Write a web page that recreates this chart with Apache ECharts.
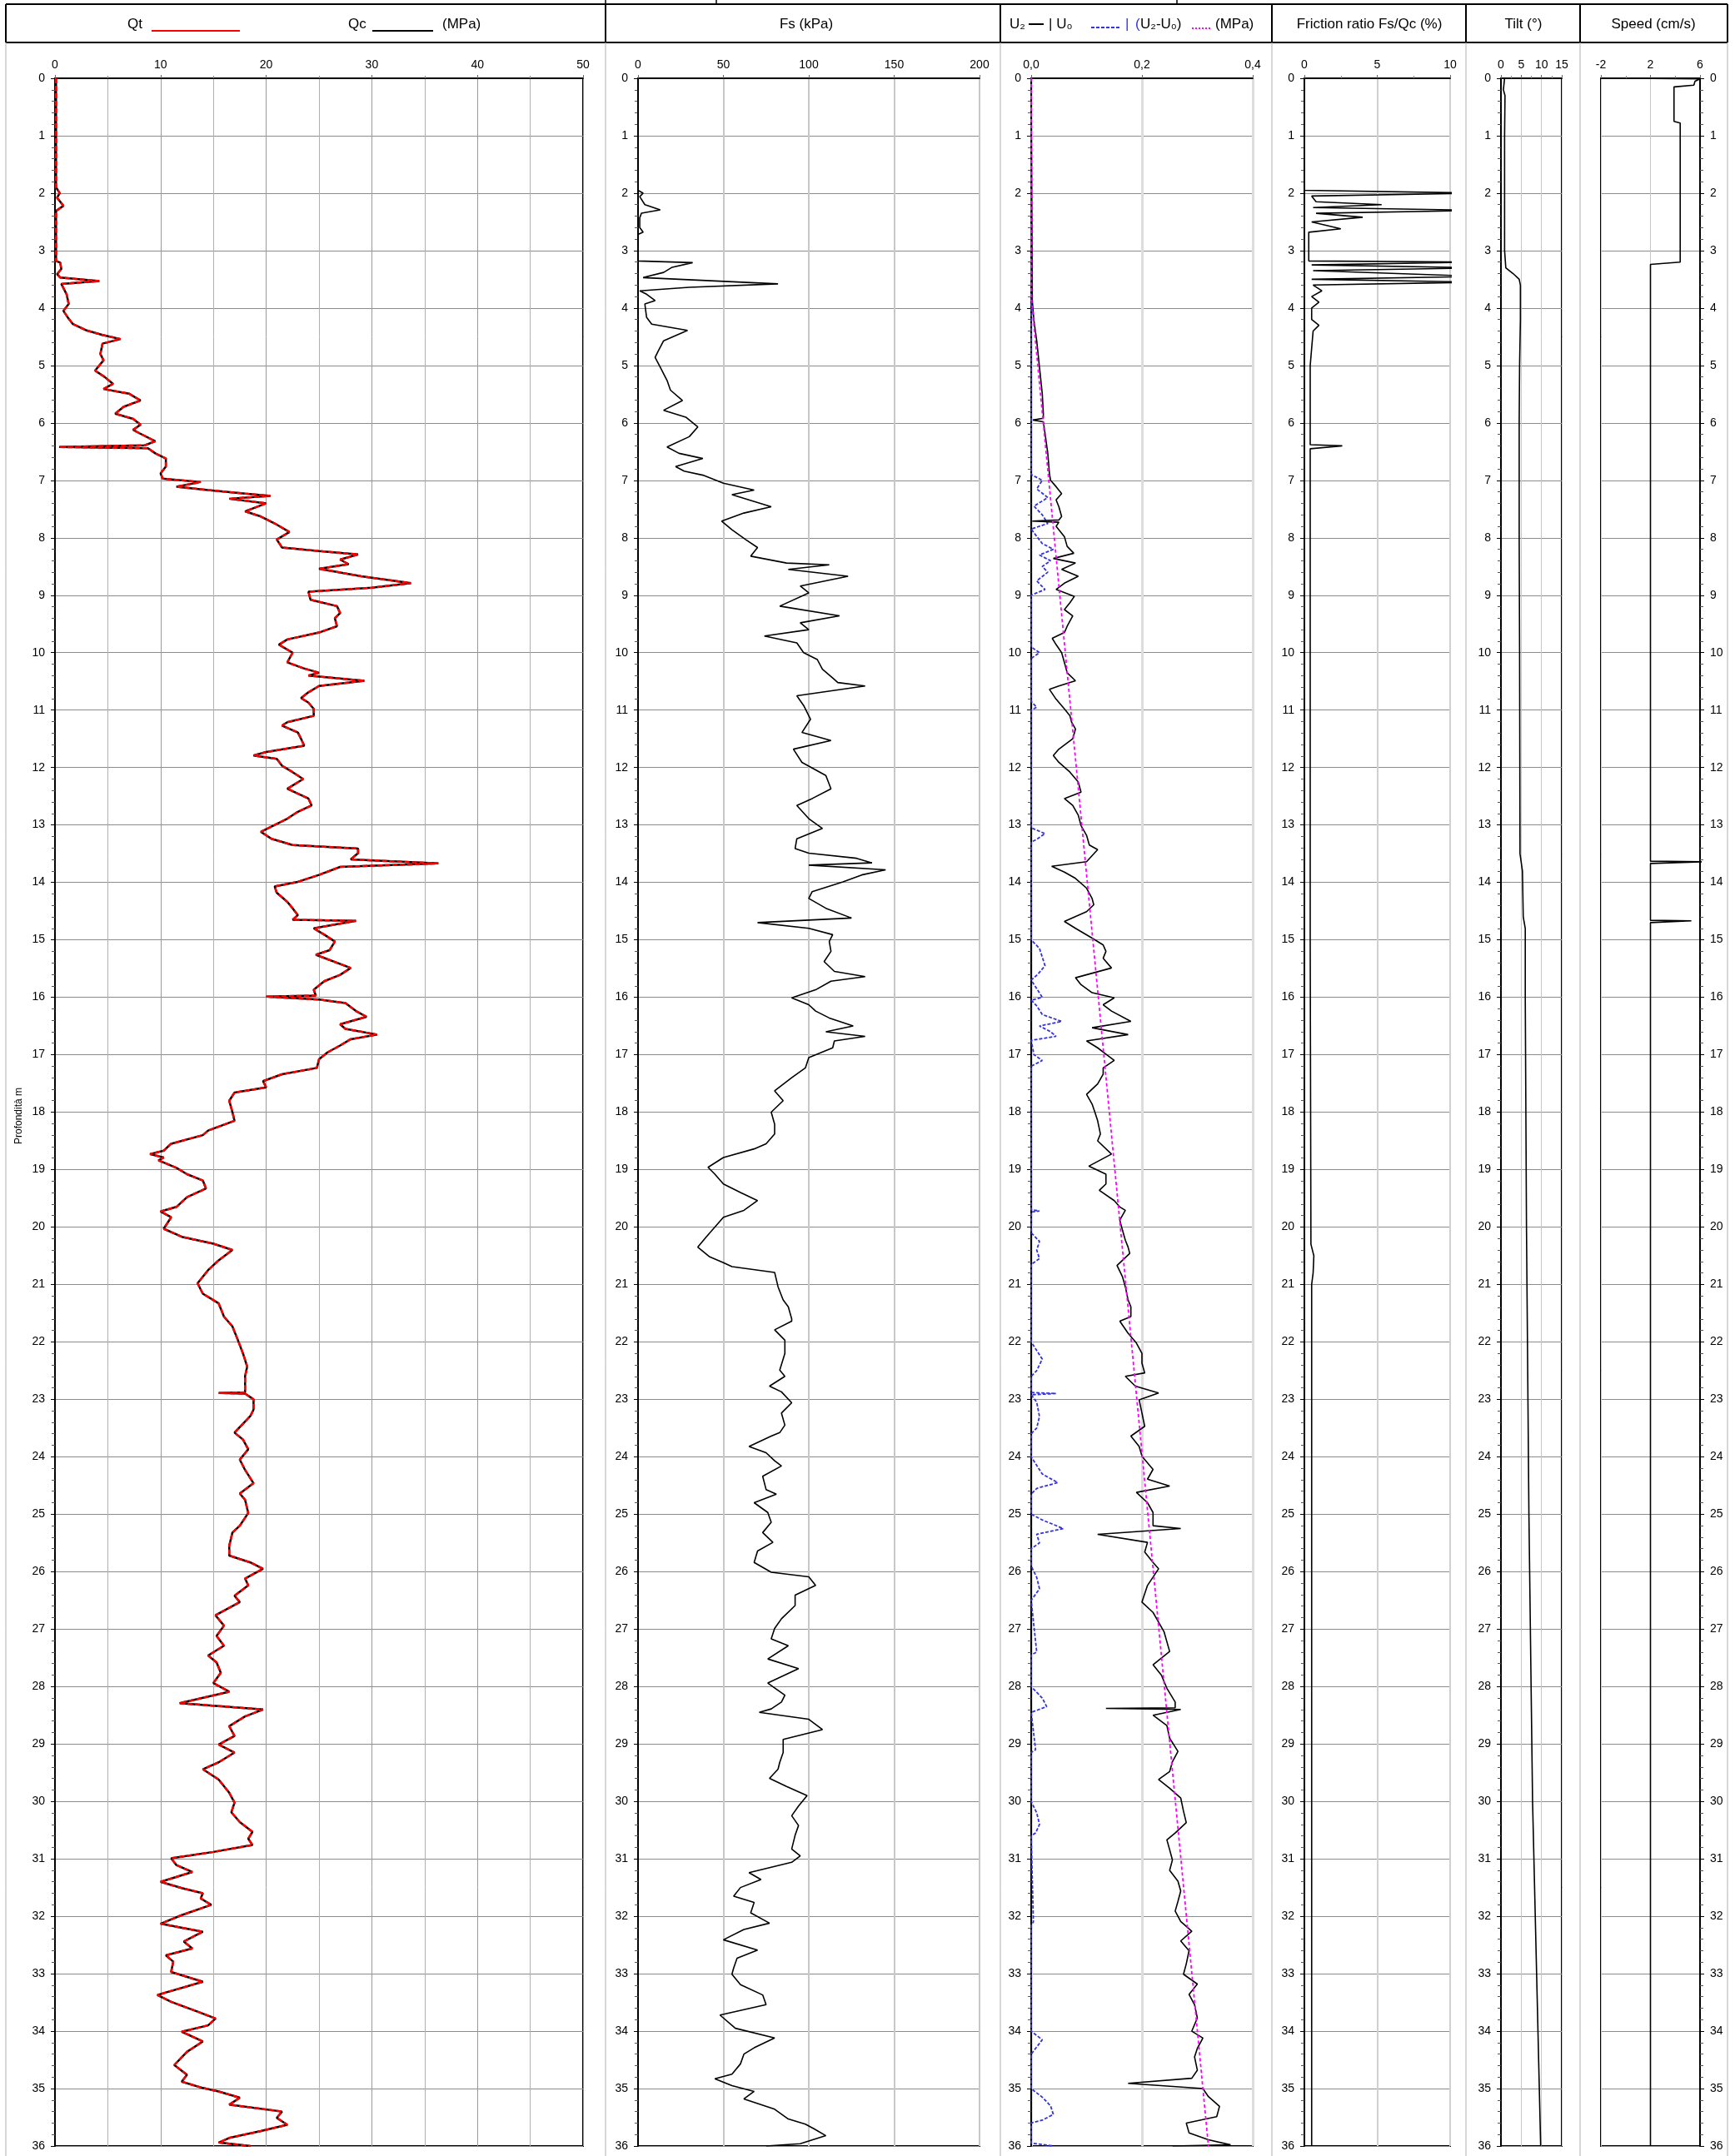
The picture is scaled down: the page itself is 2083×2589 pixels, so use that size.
<!DOCTYPE html>
<html>
<head>
<meta charset="utf-8">
<script src="https://cdn.jsdelivr.net/npm/echarts@6/dist/echarts.min.js"></script>
<style>
html,body{margin:0;padding:0;background:#fff}
#chart{width:2083px;height:2589px}
</style>
</head>
<body>
<div id="chart"></div>
<script>
// depth (m) / value pairs
var qtDepth = [0,1.9,2.0,2.08,2.22,2.31,3.18,3.21,3.32,3.41,3.47,3.53,3.58,3.76,3.93,4.05,4.16,4.28,4.39,4.47,4.54,4.62,4.8,4.91,5.09,5.2,5.32,5.41,5.49,5.61,5.72,5.84,5.93,6.03,6.12,6.18,6.32,6.39,6.42,6.44,6.53,6.62,6.76,6.88,6.97,7.03,7.11,7.17,7.23,7.27,7.32,7.4,7.54,7.63,7.75,7.9,8.03,8.17,8.23,8.29,8.38,8.46,8.54,8.67,8.79,8.87,8.94,9.08,9.19,9.31,9.4,9.54,9.65,9.77,9.86,10.0,10.17,10.27,10.35,10.4,10.49,10.58,10.69,10.79,10.87,10.98,11.1,11.21,11.27,11.39,11.5,11.62,11.73,11.79,11.85,11.97,12.08,12.2,12.37,12.54,12.66,12.77,12.89,13.12,13.24,13.35,13.41,13.49,13.6,13.67,13.73,13.87,13.99,14.07,14.18,14.34,14.45,14.57,14.65,14.67,14.8,14.91,15.03,15.18,15.26,15.49,15.61,15.72,15.87,15.97,15.99,16.04,16.1,16.24,16.34,16.47,16.55,16.65,16.73,16.84,16.96,17.08,17.23,17.34,17.46,17.57,17.66,17.8,18.0,18.15,18.32,18.4,18.55,18.67,18.73,18.79,18.84,18.97,19.08,19.19,19.33,19.48,19.65,19.73,19.83,20.03,20.17,20.29,20.4,20.58,20.75,20.98,21.16,21.33,21.56,21.73,21.96,22.2,22.43,22.6,22.88,22.89,22.9,23.0,23.18,23.29,23.58,23.7,23.87,24.05,24.23,24.46,24.64,24.75,24.98,25.2,25.32,25.55,25.72,25.84,25.95,26.12,26.24,26.42,26.53,26.76,26.94,27.12,27.29,27.46,27.58,27.76,27.94,28.09,28.29,28.4,28.52,28.69,28.86,29.01,29.15,29.32,29.44,29.62,29.85,30.02,30.19,30.36,30.53,30.65,30.76,30.88,30.99,31.11,31.23,31.4,31.51,31.6,31.69,31.8,31.98,32.13,32.27,32.44,32.56,32.68,32.79,32.97,33.14,33.37,33.49,33.66,33.78,33.9,34.01,34.18,34.36,34.59,34.76,34.88,34.99,35.05,35.16,35.28,35.4,35.51,35.63,35.74,35.86,35.94,36.0];
var qtVal = [0.1,0.1,0.45,0.2,0.8,0.1,0.1,0.5,0.6,0.2,0.5,4.2,0.6,1.1,1.3,0.8,1.2,1.7,3.0,4.5,6.2,4.5,4.3,4.6,3.8,4.7,5.5,4.6,7.0,8.1,6.5,5.7,7.4,8.1,7.4,8.0,9.5,8.5,0.4,8.8,9.5,10.5,10.5,10.0,10.2,13.8,11.5,14.5,18.0,20.4,16.5,20.0,18.0,19.5,20.8,22.2,21.0,21.5,25.0,28.7,27.0,27.8,25.0,29.0,33.7,30.0,24.0,24.2,26.7,27.0,26.5,26.7,25.0,22.0,21.2,22.5,22.0,23.5,25.0,24.0,29.3,25.0,24.0,23.3,24.0,24.5,24.5,22.0,21.5,23.0,23.3,23.6,20.0,18.8,21.0,21.5,22.5,23.5,22.0,24.0,24.3,23.0,22.0,19.5,20.5,22.5,28.7,28.7,28.0,36.3,27.0,25.0,23.0,20.8,21.0,22.0,22.5,23.0,22.5,28.5,24.5,25.5,26.5,26.0,24.7,28.0,27.0,25.5,24.5,24.7,20.0,25.0,27.5,28.5,29.5,27.0,27.5,30.5,28.0,27.0,25.8,25.0,24.8,21.5,19.7,20.0,17.0,16.5,16.8,17.0,14.5,14.0,11.0,10.3,9.0,10.3,9.8,11.5,12.5,14.0,14.3,12.5,11.5,10.0,11.0,10.3,12.0,15.0,16.8,15.5,14.5,13.5,14.0,15.5,16.0,16.8,17.3,17.8,18.2,18.0,18.0,15.5,18.0,18.8,18.8,18.5,17.0,17.8,18.3,17.5,18.0,18.8,17.5,18.0,18.3,17.5,16.8,16.5,16.5,18.5,19.7,18.0,18.3,17.0,17.5,15.2,16.0,15.3,16.0,14.5,15.3,15.7,15.0,16.5,11.8,19.7,18.0,16.5,17.0,15.5,17.0,15.5,14.0,15.5,16.5,17.0,16.7,17.5,18.7,18.3,18.7,15.0,11.0,11.5,13.0,10.0,12.0,14.0,13.8,14.8,12.0,10.0,14.0,12.2,13.0,10.5,11.2,11.0,14.0,9.7,11.0,13.5,15.2,14.5,12.0,14.0,12.5,11.3,12.5,12.0,14.0,15.5,17.5,16.5,21.5,21.0,22.0,19.5,16.5,15.5,18.5];
// Qc is drawn under Qt and follows the same trace
var qcVal = qtVal;

var fsDepth = [0,1.95,2.0,2.06,2.2,2.29,2.35,2.43,2.6,2.68,2.72,3.18,3.21,3.29,3.38,3.47,3.58,3.64,3.7,3.76,3.87,3.93,4.16,4.28,4.39,4.57,4.74,4.86,5.03,5.26,5.43,5.61,5.78,5.9,6.07,6.24,6.42,6.53,6.62,6.76,6.84,6.91,7.05,7.17,7.25,7.46,7.57,7.71,7.86,8.03,8.17,8.32,8.44,8.47,8.55,8.67,8.84,8.96,9.19,9.36,9.48,9.6,9.71,9.83,10.0,10.12,10.29,10.44,10.52,10.58,10.75,10.92,11.16,11.39,11.53,11.68,11.91,12.14,12.37,12.54,12.66,12.89,13.06,13.24,13.41,13.49,13.58,13.66,13.7,13.78,13.87,13.99,14.16,14.28,14.45,14.62,14.7,14.8,14.91,15.03,15.2,15.38,15.55,15.64,15.72,15.87,16.01,16.13,16.24,16.36,16.5,16.6,16.68,16.76,16.88,17.05,17.23,17.4,17.63,17.8,18.0,18.21,18.38,18.55,18.64,18.79,18.96,19.08,19.25,19.4,19.54,19.71,19.83,20.0,20.17,20.35,20.52,20.62,20.69,20.79,21.04,21.27,21.39,21.6,21.64,21.79,21.97,22.2,22.49,22.6,22.77,22.87,23.06,23.24,23.45,23.58,23.64,23.82,23.93,24.07,24.16,24.34,24.57,24.65,24.8,24.97,25.14,25.32,25.49,25.64,25.84,26.01,26.09,26.24,26.41,26.59,26.82,26.99,27.17,27.29,27.52,27.69,27.94,28.15,28.27,28.39,28.45,28.57,28.75,28.92,29.15,29.32,29.44,29.6,29.74,29.9,30.08,30.25,30.42,30.59,30.83,30.95,31.06,31.24,31.36,31.5,31.65,31.76,31.94,32.12,32.23,32.41,32.59,32.73,32.9,33.01,33.19,33.37,33.54,33.72,33.95,34.12,34.29,34.4,34.57,34.75,34.83,34.95,35.05,35.18,35.36,35.53,35.62,35.7,35.82,35.96,36.0];
var fsVal = [0,0,3,1,4,13,2,1,1,3,0,0,32,20,15,3,82,30,1,5,10,4,5,8,29,15,12,10,13,17,19,26,15,28,35,30,17,24,38,22,27,38,50,68,55,78,62,49,55,63,70,66,87,112,88,123,95,100,83,118,95,100,74,93,97,105,108,114,117,133,93,97,101,96,113,91,96,110,113,102,93,100,108,93,92,100,128,137,100,145,131,120,102,100,110,125,70,100,114,112,113,109,115,133,113,104,90,100,104,112,126,110,133,115,114,100,98,90,80,85,78,80,80,75,68,50,41,45,50,60,70,62,50,45,40,35,42,50,55,80,82,85,88,90,90,80,86,86,83,86,77,84,90,84,86,83,78,65,75,80,84,73,75,81,68,76,78,73,79,70,68,78,100,104,92,92,84,80,78,88,76,94,76,86,84,78,71,100,108,85,85,83,82,77,87,99,94,90,94,92,90,95,90,65,72,60,56,68,66,77,62,50,70,58,56,55,60,73,75,48,57,80,68,62,60,55,45,55,68,62,80,88,98,103,110,95,75,84];

var u2Depth = [0,3.87,4.22,4.57,5.03,5.49,5.84,5.92,5.95,5.98,6.18,6.53,6.88,7.0,7.11,7.23,7.34,7.46,7.63,7.69,7.71,7.73,7.8,7.98,8.15,8.27,8.36,8.44,8.55,8.67,8.79,8.9,9.02,9.13,9.25,9.36,9.54,9.65,9.75,9.86,10.0,10.17,10.35,10.49,10.58,10.64,10.81,10.98,11.1,11.21,11.33,11.5,11.68,11.79,11.91,12.08,12.25,12.43,12.54,12.66,12.83,13.01,13.18,13.35,13.43,13.64,13.72,13.82,13.93,14.1,14.28,14.39,14.51,14.68,14.8,14.97,15.09,15.2,15.32,15.49,15.66,15.78,15.92,16.01,16.13,16.24,16.42,16.53,16.65,16.76,16.88,16.99,17.1,17.23,17.34,17.51,17.69,17.86,18.0,18.15,18.38,18.5,18.73,18.94,19.08,19.25,19.36,19.54,19.65,19.71,19.88,20.06,20.23,20.35,20.46,20.67,20.87,21.04,21.27,21.39,21.56,21.64,21.85,22.02,22.2,22.37,22.54,22.6,22.77,22.89,23.01,23.24,23.47,23.64,23.82,23.99,24.22,24.39,24.51,24.62,24.8,24.97,25.2,25.25,25.35,25.49,25.66,25.84,25.95,26.24,26.53,26.71,26.88,27.05,27.39,27.62,27.8,28.03,28.27,28.37,28.38,28.4,28.5,28.68,28.9,29.13,29.31,29.48,29.62,29.77,29.94,30.17,30.37,30.55,30.67,30.84,31.02,31.2,31.39,31.56,31.74,31.91,32.09,32.26,32.43,32.6,32.83,33.01,33.18,33.36,33.54,33.77,34.0,34.12,34.3,34.45,34.68,34.82,34.91,35.0,35.14,35.31,35.49,35.6,35.77,35.89,35.98,36.0];
var u2Val = [0,0.002,0.005,0.01,0.015,0.02,0.022,0.022,0.003,0.022,0.025,0.03,0.033,0.035,0.045,0.055,0.045,0.05,0.055,0.05,0.002,0.05,0.045,0.06,0.065,0.077,0.04,0.08,0.055,0.085,0.06,0.045,0.078,0.07,0.06,0.075,0.065,0.06,0.038,0.045,0.055,0.06,0.065,0.08,0.05,0.033,0.045,0.06,0.07,0.073,0.08,0.075,0.05,0.04,0.05,0.07,0.085,0.09,0.06,0.075,0.085,0.09,0.1,0.105,0.12,0.1,0.037,0.06,0.08,0.1,0.11,0.113,0.1,0.06,0.08,0.11,0.13,0.135,0.13,0.145,0.08,0.09,0.11,0.15,0.13,0.145,0.18,0.11,0.175,0.1,0.12,0.135,0.15,0.13,0.13,0.12,0.1,0.11,0.115,0.12,0.125,0.12,0.145,0.104,0.135,0.135,0.123,0.15,0.16,0.17,0.16,0.165,0.17,0.175,0.178,0.155,0.165,0.17,0.175,0.18,0.18,0.16,0.175,0.19,0.2,0.2,0.205,0.17,0.188,0.23,0.195,0.2,0.205,0.18,0.195,0.2,0.22,0.21,0.25,0.19,0.21,0.22,0.22,0.27,0.12,0.21,0.205,0.22,0.23,0.21,0.2,0.22,0.23,0.24,0.25,0.22,0.235,0.245,0.26,0.26,0.135,0.27,0.22,0.245,0.25,0.265,0.255,0.25,0.23,0.25,0.27,0.275,0.28,0.26,0.245,0.25,0.255,0.25,0.265,0.27,0.265,0.26,0.27,0.29,0.27,0.285,0.28,0.275,0.3,0.285,0.295,0.3,0.29,0.31,0.3,0.295,0.3,0.29,0.175,0.31,0.32,0.34,0.335,0.28,0.285,0.32,0.36,0.255];

var u0Depth = [0,6.9,7.0,7.15,7.3,7.45,7.6,7.75,7.85,8.1,8.2,8.3,8.4,8.5,8.6,8.75,8.9,9.0,9.9,10.0,10.1,10.85,10.95,11.0,13.05,13.15,13.25,13.3,15.0,15.15,15.3,15.45,15.6,15.7,16.0,16.05,16.15,16.3,16.42,16.5,16.6,16.68,16.75,17.0,17.1,17.2,19.7,19.72,19.74,20.1,20.25,20.4,20.55,20.65,22.0,22.15,22.3,22.5,22.6,22.88,22.9,22.92,23.05,23.3,23.5,23.6,24.0,24.15,24.3,24.45,24.55,24.65,25.0,25.1,25.25,25.35,25.5,25.6,25.9,26.1,26.3,26.5,27.4,27.45,28.0,28.2,28.35,28.45,29.1,29.15,30.0,30.2,30.4,30.55,30.6,32.1,32.15,34.0,34.15,34.3,34.4,35.0,35.15,35.3,35.45,35.55,35.6,35.95,36.0];
var u0Val = [0,0,0.02,0.01,0.03,0.005,0.02,0.03,0,0.02,0.04,0.015,0.035,0.02,0.03,0.01,0.025,0,0,0.015,0,0,0.01,0,0,0.025,0.01,0,0,0.015,0.02,0.025,0.012,0,0.02,0,0.01,0.02,0.055,0.015,0.035,0.045,0,0.005,0.02,0,0,0.015,0,0,0.015,0.01,0.015,0,0,0.01,0.02,0.01,0,0,0.045,0,0.01,0.015,0.01,0,0,0.01,0.02,0.048,0.01,0,0,0.02,0.058,0.01,0.015,0,0,0.01,0.015,0,0.01,0,0,0.02,0.028,0,0.008,0,0,0.01,0.015,0.008,0,0.004,0,0,0.02,0.008,0,0,0.02,0.035,0.04,0.02,0,0,0.04];

var duDepth = [0,3.8,36.0];
var duVal = [0,0,0.32];

var frDepth = [0,1.95,2.0,2.05,2.15,2.2,2.25,2.3,2.35,2.42,2.5,2.62,2.68,3.18,3.2,3.25,3.3,3.35,3.45,3.5,3.55,3.6,3.7,3.8,3.9,4.0,4.2,4.3,4.4,5.0,6.0,6.38,6.4,6.45,7.0,10,15,20.3,20.5,20.8,21,25,30,36];
var frVal = [0,0,12,0.5,0.8,5.3,0.6,12,0.8,4,0.5,2.5,0.3,0.3,12,0.5,12,0.6,12,0.5,12,0.6,1.2,0.5,1.0,0.5,0.5,1.0,0.6,0.4,0.4,0.4,2.6,0.4,0.4,0.4,0.4,0.45,0.65,0.6,0.5,0.5,0.5,0.5];

var tiltDepth = [0,0.2,0.3,1,2,3,3.3,3.4,3.5,3.6,4.2,5,6,8,10,13.5,13.8,14.6,14.8,16,20,25,30,36];
var tiltVal = [0.9,0.6,1.0,0.9,0.9,0.9,1.2,3.0,4.5,4.8,4.8,4.6,4.5,4.5,4.6,4.7,5.3,5.5,6.0,6.0,6.3,6.9,7.8,9.8];

var speedDepth = [0,0.01,0.05,0.12,0.15,0.75,0.78,3.2,3.24,3.3,13.63,13.64,13.66,13.67,14.66,14.67,14.69,14.7,36];
var speedVal = [0.1,6.0,5.6,5.5,3.9,3.9,4.4,4.4,2.0,2.0,2.0,6.5,6.5,2.0,2.0,5.3,5.3,2.0,2.0];

function zip(d, v){
	return d.map(function(y, i){ return [v[i], y]; });
}

var FONT = '"Liberation Sans", Arial, sans-serif';
var TOP = 94, BOTTOM = 2577;

// panel frames (px) and x scales
var panels = [
	{left:66, right:700, min:0, max:50, interval:10, minor:2, grid:'#9a9a9a', gw:1},
	{left:766, right:1176, min:0, max:200, interval:50, minor:0, grid:'#c8c8c8', gw:2},
	{left:1238, right:1504, min:0, max:0.4, interval:0.2, minor:0, grid:'#dddddd', gw:3, comma:true},
	{left:1566, right:1741, min:0, max:10, interval:5, minor:2, grid:'#d0d0d0', gw:2},
	{left:1802, right:1875, min:0, max:15, interval:5, minor:2, grid:'#c8c8c8', gw:1},
	{left:1922, right:2041, min:-2, max:6, interval:4, minor:2, grid:'#c8c8c8', gw:1, rightLabels:true}
];

var grids = [], xAxes = [], yAxes = [];
panels.forEach(function(p, i){
	grids.push({left:p.left, top:TOP, width:p.right-p.left, height:BOTTOM-TOP,
		show:true, borderColor:'#000', borderWidth:2, backgroundColor:'transparent'});
	xAxes.push({
		gridIndex:i, type:'value', position:'top', min:p.min, max:p.max, interval:p.interval,
		axisLine:{show:true, onZero:false, lineStyle:{color:'#000', width:2}},
		axisTick:{show:true, length:4, lineStyle:{color:'#666'}},
		minorTick:{show:p.minor>0, splitNumber:p.minor||5, length:3, lineStyle:{color:'#888'}},
		minorSplitLine:{show:p.minor>0 && i==0, lineStyle:{color:'#b0b0b0', width:1}},
		splitLine:{show:true, lineStyle:{color:p.grid, width:p.gw}},
		axisLabel:{fontSize:14, color:'#000', fontFamily:FONT, margin:9,
			formatter:function(v){ return p.comma ? v.toFixed(1).replace('.', ',') : String(v); }}
	});
	yAxes.push({
		gridIndex:i, type:'value', inverse:true, min:0, max:36, interval:1,
		position:p.rightLabels ? 'right' : 'left',
		axisLine:{show:true, onZero:false, lineStyle:{color:'#000', width:2}},
		axisTick:{show:true, length:5, lineStyle:{color:'#000'}},
		minorTick:{show:true, splitNumber:5, length:4, lineStyle:{color:'#555'}},
		splitLine:{show:true, lineStyle:{color:'#8c8c8c', width:1}},
		axisLabel:{fontSize:14, color:'#000', fontFamily:FONT, margin:12}
	});
});

function lineSeries(idx, data, color, width, type){
	return {type:'line', xAxisIndex:idx, yAxisIndex:idx, data:data, symbol:'none',
		lineStyle:{color:color, width:width, type:type || 'solid'}, z:3, silent:true};
}

var series = [
	lineSeries(0, zip(qtDepth, qcVal), '#000', 2.5),
	lineSeries(0, zip(qtDepth, qtVal), '#ff0000', 2.5, [6, 3]),
	lineSeries(1, zip(fsDepth, fsVal), '#000', 1.6),
	lineSeries(2, zip(u0Depth, u0Val), '#3333dd', 1.8, [4, 2]),
	lineSeries(2, zip(u2Depth, u2Val), '#000', 1.6),
	lineSeries(2, zip(duDepth, duVal), '#ff00ff', 1.8, [4, 3]),
	lineSeries(3, zip(frDepth, frVal), '#000', 1.6),
	lineSeries(4, zip(tiltDepth, tiltVal), '#000', 1.6),
	lineSeries(5, zip(speedDepth, speedVal), '#000', 1.6)
];

// header table
var dividers = [7, 727, 1201, 1527, 1760, 1897, 2074];
var graphic = [];
function gline(x1, y1, x2, y2, color, w, dash){
	graphic.push({type:'line', shape:{x1:x1, y1:y1, x2:x2, y2:y2},
		style:{stroke:color, lineWidth:w, lineDash:dash || null}, z:10});
}
function gtext(x, y, s, align, color, size){
	graphic.push({type:'text', x:x, y:y, z:10,
		style:{text:s, fill:color || '#000', font:(size || 17) + 'px ' + FONT,
			textAlign:align || 'left', textVerticalAlign:'middle'}});
}
gline(7, 5, 2074, 5, '#000', 2);
gline(7, 51, 2074, 51, '#000', 2);
dividers.forEach(function(x){
	gline(x, 5, x, 51, '#000', 2);
	gline(x, 51, x, 2589, '#b0b0b0', 1);
});
[727, 860, 1413].forEach(function(x){ gline(x, 0, x, 5, '#000', 1.5); });

var HY = 29;
gtext(153, HY, 'Qt');
gline(182, 37, 288, 37, '#ff0000', 2);
gtext(418, HY, 'Qc');
gline(447, 37, 520, 37, '#000', 2);
gtext(531, HY, '(MPa)');
gtext(968, HY, 'Fs (kPa)', 'center');
gtext(1212, HY, 'U\u2082');
gline(1235, 29, 1253, 29, '#000', 2);
gtext(1259, HY, '| U\u2080');
gline(1310, 33, 1344, 33, '#3333dd', 2, [4, 2]);
gtext(1351, HY, '|', 'left', '#3333dd');
gtext(1363, HY, '(', 'left', '#3333dd');
gtext(1369, HY, 'U\u2082-U\u2080)');
gline(1431, 34, 1454, 34, '#ff00ff', 2, [2, 2]);
gtext(1459, HY, '(MPa)');
gtext(1644, HY, 'Friction ratio Fs/Qc (%)', 'center');
gtext(1829, HY, 'Tilt (\u00b0)', 'center');
gtext(1985, HY, 'Speed (cm/s)', 'center');

graphic.push({type:'text', x:23, y:1340, rotation:Math.PI/2, z:10,
	style:{text:'Profondit\u00e0 m', fill:'#000', font:'12px ' + FONT,
		textAlign:'center', textVerticalAlign:'middle'}});

var chart = echarts.init(document.getElementById('chart'), null, {renderer:'canvas'});
chart.setOption({
	animation:false,
	backgroundColor:'#fff',
	grid:grids,
	xAxis:xAxes,
	yAxis:yAxes,
	series:series,
	graphic:graphic
});
</script>
</body>
</html>
